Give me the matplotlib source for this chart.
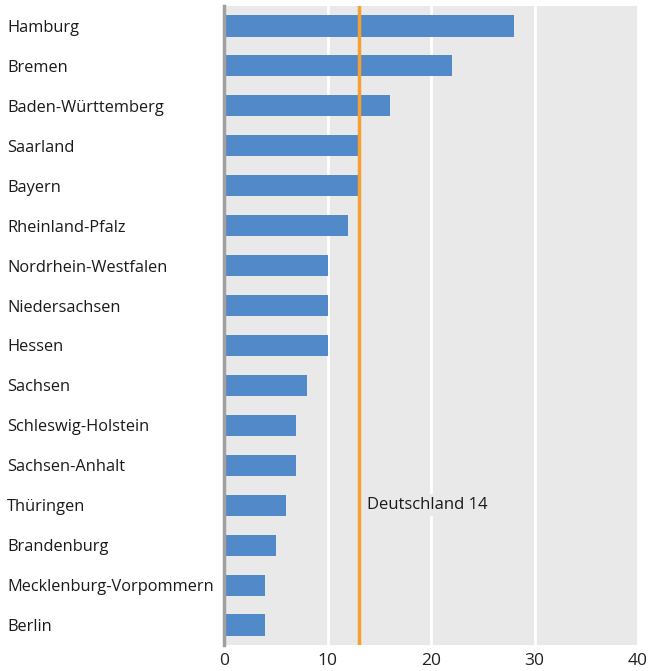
import matplotlib
matplotlib.use("Agg")
import matplotlib.pyplot as plt

states = ["Hamburg", "Bremen", "Baden-Württemberg", "Saarland", "Bayern",
          "Rheinland-Pfalz", "Nordrhein-Westfalen", "Niedersachsen", "Hessen",
          "Sachsen", "Schleswig-Holstein", "Sachsen-Anhalt", "Thüringen",
          "Brandenburg", "Mecklenburg-Vorpommern", "Berlin"]
values = [28, 22, 16, 13, 13, 12, 10, 10, 10, 8, 7, 7, 6, 5, 4, 4]
national_value = 13
national_label = "Deutschland 14"
xticks = [0, 10, 20, 30, 40]

plt.rcParams['font.family'] = ['Open Sans', 'DejaVu Sans']

W, H = 651, 671
fig = plt.figure(figsize=(W / 100, H / 100), dpi=100)
ax = fig.add_axes([224 / W, 1 - 645 / H, (638 - 224) / W, (645 - 6) / H])
ax.set_facecolor("#e9e9e9")

ypos = list(range(len(states)))
ax.barh(ypos, values, height=0.53, color="#5189c9", zorder=3)
ax.set_ylim(len(states) - 0.5, -0.5)
ax.set_xlim(0, 40)

ax.set_xticks(xticks)
ax.set_xticklabels([str(t) for t in xticks], fontsize=12.5, color="#222222")
ax.tick_params(axis='x', length=0, pad=6)
ax.grid(axis='x', color='white', linewidth=2, zorder=1)
ax.set_axisbelow(True)

ax.set_yticks(ypos)
ax.set_yticklabels(states, fontsize=11.8, color="#1a1a1a", ha='left')
ax.tick_params(axis='y', length=0, pad=(224 - 7) * 0.72)

for s in ['top', 'right', 'bottom']:
    ax.spines[s].set_visible(False)
ax.spines['left'].set_color('#a0a0a0')
ax.spines['left'].set_linewidth(2.5)
ax.spines['left'].set_zorder(5)

ax.axvline(national_value, color="#f5a031", linewidth=2.5, zorder=4)
ax.text(national_value + 0.8, 12.0, national_label, fontsize=12, color="#1a1a1a",
        va='center', ha='left', zorder=3,
        bbox=dict(facecolor="#e9e9e9", edgecolor='none', pad=2))

fig.savefig("out.png", dpi=100)
